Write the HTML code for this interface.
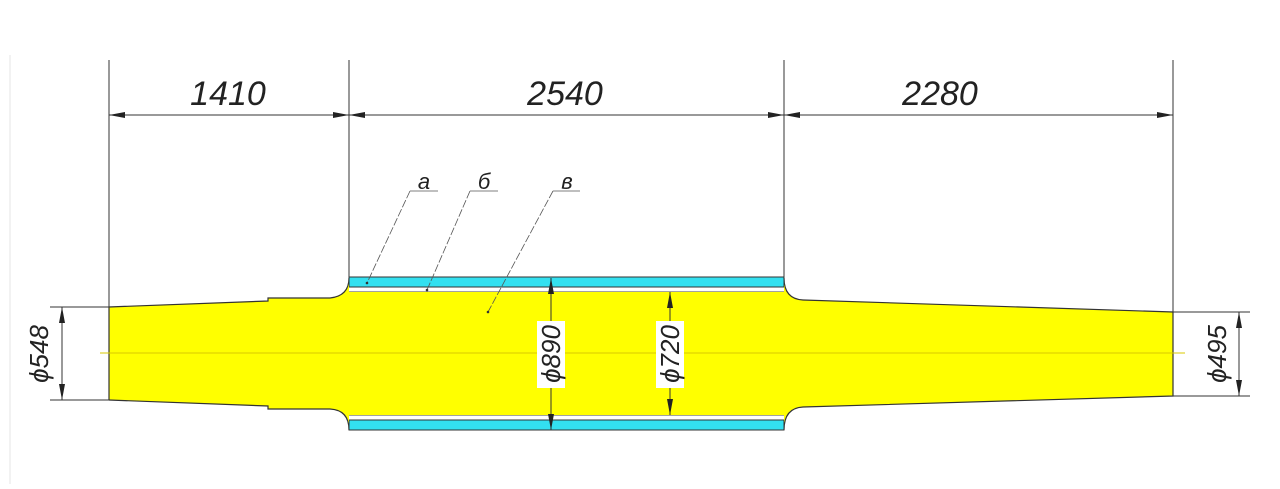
<!DOCTYPE html>
<html><head><style>
html,body{margin:0;padding:0;background:#fff;}
svg text{font-family:"Liberation Sans",sans-serif;font-style:italic;fill:#222;}
</style></head><body>
<svg width="1280" height="484" viewBox="0 0 1280 484" xmlns="http://www.w3.org/2000/svg">
<line x1="10" y1="55" x2="10" y2="484" stroke="#e4e4e4" stroke-width="1"/>
<rect x="349" y="277" width="435" height="10" fill="#33e0f0" stroke="#333" stroke-width="1"/>
<rect x="349" y="420" width="435" height="10" fill="#33e0f0" stroke="#333" stroke-width="1"/>
<line x1="349" y1="292" x2="784" y2="292" stroke="#444" stroke-width="1"/>
<line x1="349" y1="415" x2="784" y2="415" stroke="#444" stroke-width="1"/>
<path d="M109,307 L268,301 L268,298 L330,298 Q349,296 349,280 L349,292 L784,292 L784,280 Q784,299 803,300 L1173,312 L1173,396 L803,407 Q784,408 784,427 L784,415 L349,415 L349,427 Q349,410 330,409 L268,409 L268,406 L109,400 Z" fill="#ffff00" stroke="none"/>
<g fill="none" stroke="#333" stroke-width="1.2">
<path d="M109,400 L109,307 L268,301 L268,298 L330,298 Q349,296 349,278"/>
<path d="M784,278 Q784,299 803,300 L1173,312 L1173,396 L803,407 Q784,408 784,430"/>
<path d="M349,430 Q349,410 330,409 L268,409 L268,406 L109,400"/>
</g>
<line x1="100" y1="353" x2="1185" y2="353" stroke="#d8c800" stroke-width="1"/>
<g stroke="#333" stroke-width="1">
<line x1="109" y1="60" x2="109" y2="307"/>
<line x1="349" y1="60" x2="349" y2="280"/>
<line x1="784" y1="60" x2="784" y2="280"/>
<line x1="1173" y1="60" x2="1173" y2="312"/>
<line x1="109" y1="115" x2="1173" y2="115"/>
<line x1="50" y1="307" x2="109" y2="307"/>
<line x1="50" y1="400" x2="109" y2="400"/>
<line x1="62" y1="307" x2="62" y2="400"/>
<line x1="1173" y1="312" x2="1250" y2="312"/>
<line x1="1173" y1="396" x2="1250" y2="396"/>
<line x1="1239" y1="312" x2="1239" y2="396"/>
<line x1="551" y1="278" x2="551" y2="430"/>
<line x1="670" y1="292" x2="670" y2="415"/>
</g>
<g fill="#222">
<path d="M109,115 l16,-3 v6 z M349,115 l-16,-3 v6 z M349,115 l16,-3 v6 z M784,115 l-16,-3 v6 z M784,115 l16,-3 v6 z M1173,115 l-16,-3 v6 z"/>
<path d="M62,307 l-3,16 h6 z M62,400 l-3,-16 h6 z M1239,312 l-3,16 h6 z M1239,396 l-3,-16 h6 z"/>
<path d="M551,278 l-3,16 h6 z M551,430 l-3,-16 h6 z M670,292 l-3,16 h6 z M670,415 l-3,-16 h6 z"/>
</g>
<rect x="537" y="321" width="28" height="67" fill="#fff"/>
<rect x="656" y="321" width="28" height="67" fill="#fff"/>
<text x="228" y="105" font-size="34" text-anchor="middle">1410</text>
<text x="565" y="105" font-size="34" text-anchor="middle">2540</text>
<text x="940" y="105" font-size="34" text-anchor="middle">2280</text>
<text transform="translate(560,354) rotate(-90)" font-size="26" text-anchor="middle">ϕ890</text>
<text transform="translate(679,354) rotate(-90)" font-size="26" text-anchor="middle">ϕ720</text>
<text transform="translate(48,354) rotate(-90)" font-size="26" text-anchor="middle">ϕ548</text>
<text transform="translate(1226,354) rotate(-90)" font-size="26" text-anchor="middle">ϕ495</text>
<g stroke="#555" stroke-width="0.8" fill="none">
<line x1="410" y1="191" x2="438" y2="191"/>
<line x1="470" y1="191" x2="498" y2="191"/>
<line x1="553" y1="191" x2="580" y2="191"/>
<line x1="410" y1="191" x2="367" y2="283" stroke-dasharray="8,2"/>
<line x1="470" y1="191" x2="427" y2="290" stroke-dasharray="8,2"/>
<line x1="553" y1="191" x2="488" y2="312" stroke-dasharray="8,2"/>
</g>
<g fill="#333"><circle cx="367" cy="283" r="1.3"/><circle cx="427" cy="290" r="1.3"/><circle cx="488" cy="312" r="1.3"/></g>
<text x="424" y="189" font-size="22" text-anchor="middle">а</text>
<text x="484" y="189" font-size="22" text-anchor="middle">б</text>
<text x="567" y="189" font-size="22" text-anchor="middle">в</text>
</svg>
</body></html>
